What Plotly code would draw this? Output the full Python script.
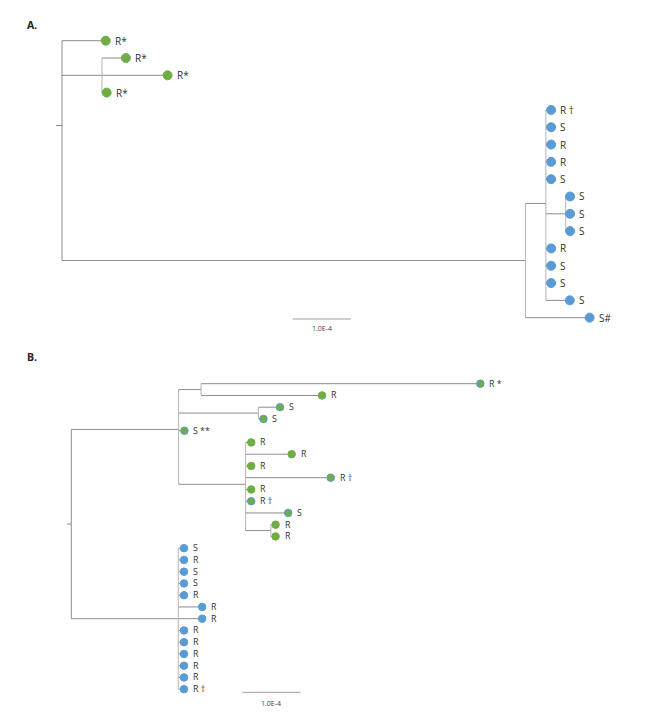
import plotly.graph_objects as go

# ---------------- data ----------------
# Trees in Newick form; branch lengths in units of 1.0E-4 substitutions/site
TREE_A = ("(R*:0.75,(R*:0.41,R*:1.125,R*:0.08):0.686,"
          "((R †:0.09,S:0.09,R:0.09,R:0.09,S:0.09,(S:0.075,S:0.075,S:0.075):0.34,"
          "R:0.09,S:0.09,S:0.09,S:0.41):0.35,S#:1.10):7.95):0.103;")
CLADE_A = ["clade 1"] * 4 + ["clade 2"] * 13

TREE_B = ("(((R *:4.79,R:2.075):0.386,(S:0.37,S:0.086):1.37,S **:0.10,"
          "(R:0.096,R:0.79,R:0.096,R †:1.46,R:0.096,R †:0.096,S:0.73,(R:0.08,R:0.08):0.434):1.15):1.84,"
          "(S:0.098,R:0.098,S:0.098,S:0.098,R:0.098,R:0.41,R:0.41,R:0.098,R:0.098,R:0.098,"
          "R:0.098,R:0.098,R †:0.098):1.835):0.074;")
CLADE_B = ["clade 1"] * 14 + ["clade 2"] * 13

PANEL_TITLES = ["A.", "B."]
SCALE_BAR_LENGTH = 1.0          # in units of 1.0E-4
SCALE_BAR_LABEL = "1.0E-4"

# ---------------- styles ----------------
W, H = 664, 715
OFF = 8.0                       # page body margin compensation (px)
PX_PER_UNIT = 58.3
GREEN = "#70AD47"
BLUE = "#5B9BD5"
LINE_COL = "#8c8c8c"
VLINE_COL = "#b4b4b4"
TEXT_COL = "#303030"
FONT = "Open Sans"
CLADE_COLORS = {"clade 1": GREEN, "clade 2": BLUE}


def parse_newick(s):
    s = s.strip().rstrip(";")
    pos = 0

    def node():
        nonlocal pos
        children = []
        if s[pos] == "(":
            pos += 1
            while True:
                children.append(node())
                if s[pos] == ",":
                    pos += 1
                    continue
                if s[pos] == ")":
                    pos += 1
                    break
        start = pos
        while pos < len(s) and s[pos] not in ",():":
            pos += 1
        name = s[start:pos]
        bl = 0.0
        if pos < len(s) and s[pos] == ":":
            pos += 1
            start = pos
            while pos < len(s) and s[pos] not in ",()":
                pos += 1
            bl = float(s[start:pos])
        return {"name": name, "bl": bl, "children": children}

    return node()


def layout_tree(root):
    leaves, hsegs, vsegs = [], [], []
    counter = [0]

    def place(n, xp):
        n["x"] = xp + n["bl"]
        if not n["children"]:
            n["y"] = counter[0]
            counter[0] += 1
            leaves.append(n)
        else:
            for c in n["children"]:
                place(c, n["x"])
            ys = [c["y"] for c in n["children"]]
            n["y"] = sum(ys) / len(ys)
            vsegs.append((n["x"], ys[0], ys[-1], n is root))
        hsegs.append((xp, n["x"], n["y"]))

    place(root, -root["bl"])
    return leaves, hsegs, vsegs


fig = go.Figure()

# panel geometry (reference pixels): root vertical x, first leaf y, leaf spacing, panel rows
panels = [
    dict(tree=TREE_A, clades=CLADE_A, x0=62.0, y0=40.7, dy=17.31, top=0, bottom=345,
         msize=9, outline=False, bar_x=292.7, bar_y=319.0, lab_y=328.5, title_y=25,
         fsize=10, xa="x", ya="y"),
    dict(tree=TREE_B, clades=CLADE_B, x0=71.3, y0=383.7, dy=11.75, top=345, bottom=715,
         msize=7.5, outline=True, bar_x=242.3, bar_y=692.3, lab_y=703.5, title_y=357,
         fsize=8.8, xa="x2", ya="y2"),
]

for k, p in enumerate(panels):
    root = parse_newick(p["tree"])
    leaves, hsegs, vsegs = layout_tree(root)

    def to_y(py, p=p):
        return (py - p["y0"]) / p["dy"]

    def to_x(px, p=p):
        return (px - p["x0"]) / PX_PER_UNIT

    # horizontal branches
    hx, hy = [], []
    for x1, x2, y in hsegs:
        hx += [x1, x2, None]
        hy += [y, y, None]
    fig.add_trace(go.Scatter(x=hx, y=hy, mode="lines", line=dict(color=LINE_COL, width=1),
                             hoverinfo="skip", showlegend=False, xaxis=p["xa"], yaxis=p["ya"]))
    # vertical branches
    vx, vy, rx, ry = [], [], [], []
    for x, ya, yb, is_root in vsegs:
        if is_root:
            rx += [x, x, None]
            ry += [ya, yb, None]
        else:
            vx += [x, x, None]
            vy += [ya, yb, None]
    fig.add_trace(go.Scatter(x=vx, y=vy, mode="lines", line=dict(color=VLINE_COL, width=1),
                             hoverinfo="skip", showlegend=False, xaxis=p["xa"], yaxis=p["ya"]))
    fig.add_trace(go.Scatter(x=rx, y=ry, mode="lines", line=dict(color=LINE_COL, width=1),
                             hoverinfo="skip", showlegend=False, xaxis=p["xa"], yaxis=p["ya"]))

    # leaves
    fills = [CLADE_COLORS[c] for c in p["clades"]]
    lines = []
    for lf, c in zip(leaves, p["clades"]):
        if p["outline"] and c == "clade 1" and lf["name"] != "R":
            lines.append(BLUE)
        else:
            lines.append(CLADE_COLORS[c])
    fig.add_trace(go.Scatter(
        x=[lf["x"] for lf in leaves], y=[lf["y"] for lf in leaves],
        mode="markers",
        marker=dict(size=p["msize"], color=fills, line=dict(color=lines, width=1)),
        hoverinfo="skip", showlegend=False, xaxis=p["xa"], yaxis=p["ya"]))
    for lf in leaves:
        fig.add_annotation(x=lf["x"], y=lf["y"], xref=p["xa"], yref=p["ya"], text=lf["name"],
                           showarrow=False, xanchor="left", yanchor="middle", xshift=8,
                           borderpad=0, font=dict(family=FONT, size=p["fsize"], color=TEXT_COL))

    # scale bar
    bx = to_x(p["bar_x"])
    by = to_y(p["bar_y"])
    fig.add_trace(go.Scatter(x=[bx, bx + SCALE_BAR_LENGTH], y=[by, by], mode="lines",
                             line=dict(color="#a0a0a0", width=1), hoverinfo="skip",
                             showlegend=False, xaxis=p["xa"], yaxis=p["ya"]))
    fig.add_annotation(x=bx + SCALE_BAR_LENGTH / 2, y=to_y(p["lab_y"]), xref=p["xa"], yref=p["ya"],
                       text=SCALE_BAR_LABEL, showarrow=False, xanchor="center", yanchor="middle",
                       borderpad=0, font=dict(family=FONT, size=7, color="#444444"))

    # panel title
    fig.add_annotation(x=(25 - OFF) / W, y=1 - (p["title_y"] - OFF) / H, xref="paper", yref="paper",
                       text="<b>" + PANEL_TITLES[k] + "</b>", showarrow=False,
                       xanchor="left", yanchor="middle",
                       font=dict(family=FONT, size=10.5, color="#222222"))

    # axes: figure pixel f corresponds to reference pixel f + OFF
    xname = "xaxis" if p["xa"] == "x" else "xaxis2"
    yname = "yaxis" if p["ya"] == "y" else "yaxis2"
    top_f = max(p["top"] - OFF, 0)
    bot_f = min(p["bottom"] - OFF, H) if k == 0 else H
    fig.layout[xname] = dict(range=[to_x(0 + OFF), to_x(W + OFF)], domain=[0, 1], visible=False,
                             fixedrange=True, anchor=p["ya"])
    fig.layout[yname] = dict(range=[to_y(bot_f + OFF), to_y(top_f + OFF)],
                             domain=[1 - bot_f / H, 1 - top_f / H], visible=False,
                             fixedrange=True, anchor=p["xa"])

fig.update_layout(width=W, height=H, margin=dict(l=0, r=0, t=0, b=0),
                  paper_bgcolor="white", plot_bgcolor="white")

fig.write_html("out.html")
